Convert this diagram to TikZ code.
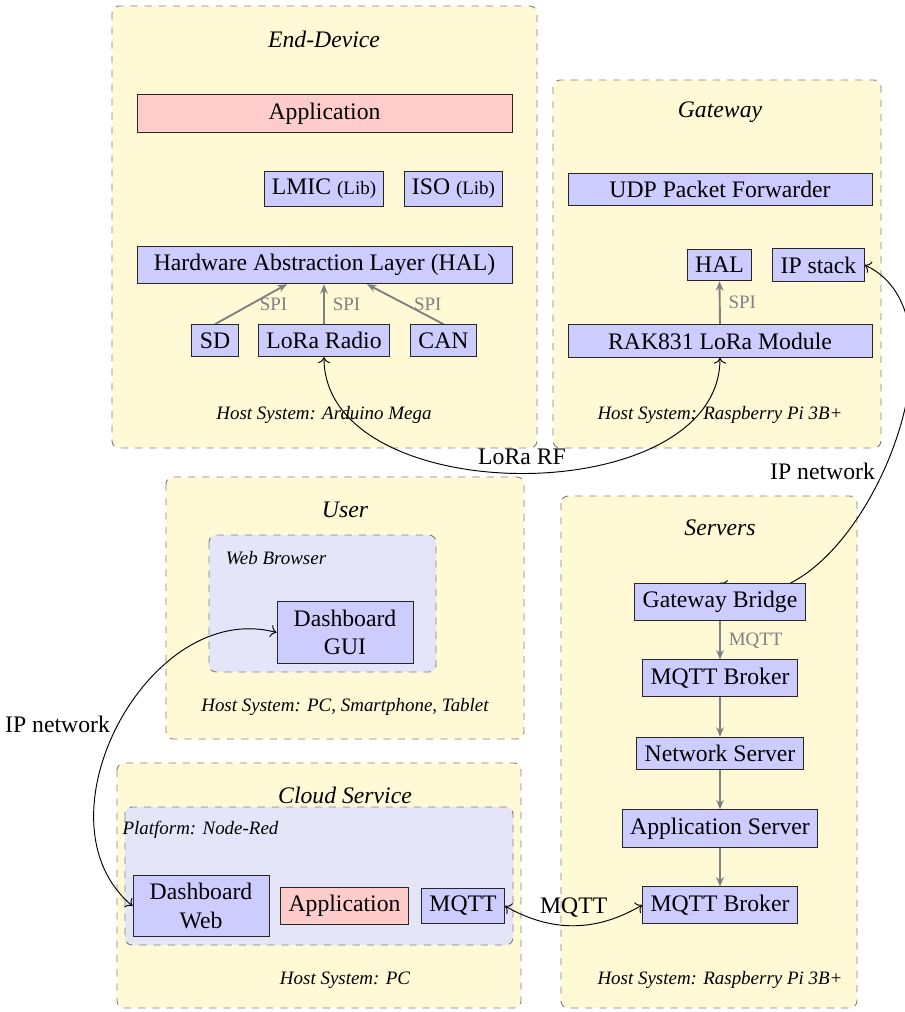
\documentclass[tikz,border=0pt]{standalone}
\usepackage{fontspec}
\setmainfont{Liberation Serif}
\usetikzlibrary{calc,arrows.meta}
\definecolor{contfill}{RGB}{255,249,214}
\definecolor{boxfill}{RGB}{204,204,255}
\definecolor{appfill}{RGB}{255,204,204}
\definecolor{innerfill}{RGB}{229,229,250}
\pgfdeclarelayer{bg}
\pgfdeclarelayer{mid}
\pgfsetlayers{bg,mid,main}
\tikzset{
  container/.style={draw=gray, dashed, fill=contfill, rounded corners=3pt},
  innerbox/.style={draw=gray, dashed, fill=innerfill, rounded corners=3pt},
  box/.style={draw=black!85, fill=boxfill},
  twoline/.style={box, align=center, minimum width=57.4pt, minimum height=25.8pt},
  appbox/.style={draw=black!85, fill=appfill},
  titlelabel/.style={font=\itshape},
  hostlabel/.style={font=\footnotesize\itshape},
  sublabel/.style={font=\footnotesize\itshape},
  bus/.style={draw=gray, thick, -{Stealth[length=4pt,width=3.2pt]}},
  buslabel/.style={font=\footnotesize, text=gray, right},
  link/.style={draw=black, {To}-{To}},
}
\begin{document}
\begin{tikzpicture}[x=0.422pt, y=-0.422pt]
\path[use as bounding box] (0,0) rectangle (905,1012);

% ---------- End-Device ----------
\node[titlelabel] (edtitle) at (324,39) {End-Device};
\node[appbox, minimum width=158.25pt] (app1) at (324.5,113.5) {Application};
\node[box] (lmic) at (324,189) {LMIC {\footnotesize(Lib)}};
\node[box] (iso) at (453.5,189) {ISO {\footnotesize(Lib)}};
\node[box, minimum width=158.25pt] (hal1) at (324.5,265) {Hardware Abstraction Layer (HAL)};
\node[box] (sd) at (215,340.5) {SD};
\node[box] (lora) at (324,340.5) {LoRa Radio};
\node[box] (can) at (443.5,340.5) {CAN};
\node[hostlabel] (host1) at (324,415) {Host System: Arduino Mega};

% ---------- Gateway ----------
\node[titlelabel] (gwtitle) at (720,112) {Gateway};
\node[box, minimum width=128.3pt] (udp) at (720,189.5) {UDP Packet Forwarder};
\node[box] (hal2) at (719.5,265) {HAL};
\node[box] (ipstack) at (818.5,265) {IP stack};
\node[box, minimum width=128.3pt] (rak) at (720,341) {RAK831 LoRa Module};
\node[hostlabel] (host2) at (720,415) {Host System: Raspberry Pi 3B+};

% ---------- User ----------
\node[titlelabel] (usertitle) at (345,510) {User};
\node[sublabel] (wblabel) at (276,558) {Web Browser};
\node[twoline] (gui) at (345,632.5) {Dashboard\\GUI};
\node[hostlabel] (host3) at (345,707) {Host System: PC, Smartphone, Tablet};

% ---------- Servers ----------
\node[titlelabel] (srvtitle) at (720,528) {Servers};
\node[box] (bridge) at (720,602) {Gateway Bridge};
\node[box] (broker1) at (720,678) {MQTT Broker};
\node[box] (netsrv) at (720,753.5) {Network Server};
\node[box] (appsrv) at (720,828.5) {Application Server};
\node[box] (broker2) at (720,905) {MQTT Broker};
\node[hostlabel] (host5) at (720,980) {Host System: Raspberry Pi 3B+};

% ---------- Cloud Service ----------
\node[titlelabel] (cloudtitle) at (345,795) {Cloud Service};
\node[sublabel] (pflabel) at (200.5,830) {Platform: Node-Red};
\node[twoline] (dweb) at (201,906) {Dashboard\\Web};
\node[appbox] (app2) at (344.5,906) {Application};
\node[box] (mqtt) at (463,906) {MQTT};
\node[hostlabel] (host4) at (345,980) {Host System: PC};

% ---------- containers ----------
\begin{pgfonlayer}{bg}
  \path[container] (112,6) rectangle (537,448);
  \path[container] (553,80) rectangle (881,448);
  \path[container] (166,477) rectangle (524,739);
  \path[innerbox] (209,535) rectangle (436,672);
  \path[container] (561,496) rectangle (857,1008);
  \path[container] (117,763) rectangle (521,1008);
  \path[innerbox] (125,807) rectangle (513,945);
\end{pgfonlayer}

% ---------- connectors ----------
\begin{pgfonlayer}{mid}
  \draw[bus] (sd.north) -- node[buslabel] {SPI} ($(hal1.south)+(-37.5,0)$);
  \draw[bus] (lora.north) -- node[buslabel] {SPI} (lora.north |- hal1.south);
  \draw[bus] (can.north) -- node[buslabel] {SPI} ($(hal1.south)+(42.5,0)$);
  \draw[bus] (rak.north) -- node[buslabel] {SPI} (hal2.south);
  \draw[bus] (bridge.south) -- node[buslabel] {MQTT} (broker1.north);
  \draw[bus] (broker1.south) -- (netsrv.north);
  \draw[bus] (netsrv.south) -- (appsrv.north);
  \draw[bus] (appsrv.south) -- (broker2.north);

  \draw[link] (lora.south) to[out=-90, in=-90] node[midway, above] {LoRa RF} (rak.south);
  \draw[link] (ipstack.east) to[out=-25, in=-30] node[midway, left] {IP network} (bridge.north);
  \draw[link] (gui.west) to[out=165, in=140, looseness=1.1] node[midway, left] {IP network} (dweb.west);
  \draw[link] (mqtt.east) to[bend right=30] node[midway, above] {MQTT} (broker2.west);
\end{pgfonlayer}
\end{tikzpicture}
\end{document}
